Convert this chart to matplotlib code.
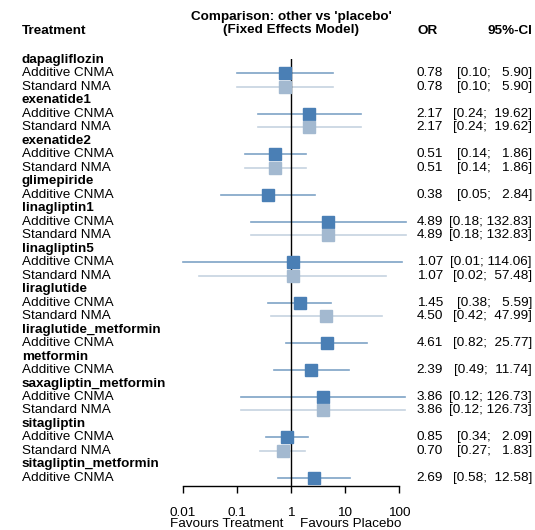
import matplotlib
matplotlib.use('Agg')
import matplotlib.pyplot as plt
import numpy as np

plt.rcParams['font.family'] = ['Liberation Sans', 'DejaVu Sans']

# treatment groups and which models report them
treatments = ['dapagliflozin', 'exenatide1', 'exenatide2', 'glimepiride',
              'linagliptin1', 'linagliptin5', 'liraglutide',
              'liraglutide_metformin', 'metformin', 'saxagliptin_metformin',
              'sitagliptin', 'sitagliptin_metformin']

# additive CNMA estimates (OR, lower, upper)
add_or = [0.78, 2.17, 0.51, 0.38, 4.89, 1.07, 1.45, 4.61, 2.39, 3.86, 0.85, 2.69]
add_lo = [0.10, 0.24, 0.14, 0.05, 0.18, 0.01, 0.38, 0.82, 0.49, 0.12, 0.34, 0.58]
add_hi = [5.90, 19.62, 1.86, 2.84, 132.83, 114.06, 5.59, 25.77, 11.74, 126.73, 2.09, 12.58]

# standard NMA estimates (None where not available)
std_or = [0.78, 2.17, 0.51, None, 4.89, 1.07, 4.50, None, None, 3.86, 0.70, None]
std_lo = [0.10, 0.24, 0.14, None, 0.18, 0.02, 0.42, None, None, 0.12, 0.27, None]
std_hi = [5.90, 19.62, 1.86, None, 132.83, 57.48, 47.99, None, None, 126.73, 1.83, None]

xticks = [0.01, 0.1, 1, 10, 100]
xticklabels = ['0.01', '0.1', '1', '10', '100']

W, H = 535, 530
FS = 9.7
add_sq, add_ln = '#4a7fb5', '#7ea3c6'
std_sq, std_ln = '#a3b9d0', '#c6d3e0'

row0, step = 60, 13.48


def fx(x):
    return x / W


def fy(y):
    return 1 - y / H


def fmt_ci(lo, hi):
    return '[%.2f; %s]' % (lo, ('%.2f' % hi).rjust(6))


fig = plt.figure(figsize=(W / 100, H / 100), dpi=100)
ax_top, ax_bot = 59, 486
ax = fig.add_axes([fx(183), fy(ax_bot), (399 - 183) / W, (ax_bot - ax_top) / H])
ax.set_xscale('log')
ax.set_xlim(0.01, 100)
ax.set_ylim((ax_bot - row0) / step, (ax_top - row0) / step)

# build the list of rows: group header followed by its model rows
rows = []
for i, t in enumerate(treatments):
    rows.append(('head', t, None))
    rows.append(('add', 'Additive CNMA', i))
    if std_or[i] is not None:
        rows.append(('std', 'Standard NMA', i))

for r, (kind, label, i) in enumerate(rows):
    y = row0 + r * step
    if kind == 'head':
        fig.text(fx(22), fy(y), label, fontsize=FS, fontweight='bold', va='center')
        continue
    fig.text(fx(22), fy(y), label, fontsize=FS, va='center')
    if kind == 'add':
        est, lo, hi, sq, ln = add_or[i], add_lo[i], add_hi[i], add_sq, add_ln
    else:
        est, lo, hi, sq, ln = std_or[i], std_lo[i], std_hi[i], std_sq, std_ln
    ax.plot([lo, hi], [r, r], color=ln, lw=1.2, clip_on=False, zorder=1)
    ax.plot([est], [r], marker='s', ms=8.3, color=sq, ls='none',
            clip_on=False, zorder=3)
    fig.text(fx(443), fy(y), '%.2f' % est, fontsize=FS, va='center', ha='right')
    fig.text(fx(532), fy(y), fmt_ci(lo, hi), fontsize=FS, va='center', ha='right')

ax.axvline(1, color='black', lw=1, zorder=2)

for s in ['top', 'left', 'right']:
    ax.spines[s].set_visible(False)
ax.spines['bottom'].set_linewidth(1)
ax.set_yticks([])
ax.set_xticks(xticks)
ax.set_xticklabels(xticklabels, fontsize=FS)
ax.minorticks_off()
ax.tick_params(axis='x', direction='out', length=5, width=1, pad=10)

# column headers
fig.text(fx(22), fy(31), 'Treatment', fontsize=FS, fontweight='bold', va='center')
fig.text(fx(291), fy(17), "Comparison: other vs 'placebo'", fontsize=FS,
         fontweight='bold', va='center', ha='center')
fig.text(fx(291), fy(30), '(Fixed Effects Model)', fontsize=FS,
         fontweight='bold', va='center', ha='center')
fig.text(fx(428), fy(31), 'OR', fontsize=FS, fontweight='bold', va='center', ha='center')
fig.text(fx(532), fy(31), '95%-CI', fontsize=FS, fontweight='bold', va='center', ha='right')

fig.text(fx(283), fy(524), 'Favours Treatment', fontsize=FS, va='center', ha='right')
fig.text(fx(300), fy(524), 'Favours Placebo', fontsize=FS, va='center', ha='left')

fig.savefig('out.png', dpi=100, facecolor='white')
